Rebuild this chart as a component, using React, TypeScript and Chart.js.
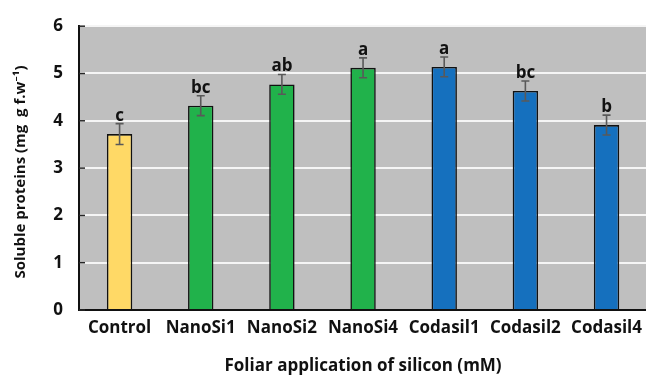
import React, { useEffect, useRef } from "react";
import { Chart, registerables } from "chart.js";

Chart.register(...registerables);

const categories = ["Control", "NanoSi1", "NanoSi2", "NanoSi4", "Codasil1", "Codasil2", "Codasil4"];
const values = [3.72, 4.32, 4.77, 5.12, 5.14, 4.63, 3.91];
const errors = [0.22, 0.21, 0.21, 0.21, 0.21, 0.21, 0.21];
const letters = ["c", "bc", "ab", "a", "a", "bc", "b"];
const barColors = ["#FFD966", "#21B24B", "#21B24B", "#21B24B", "#1570BE", "#1570BE", "#1570BE"];
const yTicks = [0, 1, 2, 3, 4, 5, 6];
const yTitle = "Soluble proteins (mg  g f.w⁻¹)";
const xTitle = "Foliar application of silicon (mM)";

const FONT = "'Open Sans', 'Noto Sans', sans-serif";

const bgPlugin = {
  id: "plotBg",
  beforeDraw(chart: any) {
    const { ctx, chartArea } = chart;
    ctx.save();
    ctx.fillStyle = "#BFBFBF";
    ctx.fillRect(chartArea.left, chartArea.top, chartArea.right - chartArea.left, chartArea.bottom - chartArea.top);
    ctx.restore();
  },
};

const extrasPlugin = {
  id: "extras",
  afterDatasetsDraw(chart: any) {
    const { ctx, scales } = chart;
    const y = scales.y;
    const meta = chart.getDatasetMeta(0);
    ctx.save();
    ctx.strokeStyle = "#262626";
    ctx.lineWidth = 1.5;
    yTicks.forEach((t) => {
      const py = y.getPixelForValue(t);
      ctx.beginPath();
      ctx.moveTo(chart.chartArea.left, py);
      ctx.lineTo(chart.chartArea.left + 6, py);
      ctx.stroke();
    });
    meta.data.forEach((bar: any, i: number) => {
      const x = bar.x;
      const top = y.getPixelForValue(values[i] + errors[i]);
      const bot = y.getPixelForValue(values[i] - errors[i]);
      ctx.strokeStyle = "#595959";
      ctx.lineWidth = 1.6;
      ctx.beginPath();
      ctx.moveTo(x, top);
      ctx.lineTo(x, bot);
      ctx.moveTo(x - 4, top);
      ctx.lineTo(x + 4, top);
      ctx.moveTo(x - 4, bot);
      ctx.lineTo(x + 4, bot);
      ctx.stroke();
      ctx.fillStyle = "#111";
      ctx.font = "bold 17px " + FONT;
      ctx.textAlign = "center";
      ctx.textBaseline = "alphabetic";
      ctx.fillText(letters[i], x, top - 3);
    });
    // y axis title
    ctx.translate(21, 172);
    ctx.rotate(-Math.PI / 2);
    ctx.fillStyle = "#111";
    ctx.font = "bold 15px " + FONT;
    ctx.textAlign = "center";
    ctx.textBaseline = "middle";
    ctx.fillText(yTitle, 0, 0);
    ctx.restore();
  },
};

export default function App() {
  const ref = useRef<HTMLCanvasElement>(null);
  useEffect(() => {
    if (!ref.current) return;
    const chart = new Chart(ref.current, {
      type: "bar",
      data: {
        labels: categories,
        datasets: [
          {
            data: values,
            backgroundColor: barColors,
            borderColor: "#111",
            borderWidth: 1.6,
            categoryPercentage: 1,
            barPercentage: 0.313,
          },
        ],
      },
      options: {
        animation: false,
        responsive: false,
        layout: { padding: { left: 0, right: 0, top: 21, bottom: 0 } },
        plugins: { legend: { display: false }, tooltip: { enabled: false } },
        scales: {
          x: {
            grid: { display: false, drawTicks: false },
            border: { display: true, color: "#111", width: 2 },
            ticks: { color: "#111", font: { family: FONT, size: 17, weight: "bold" }, padding: 8, maxRotation: 0 },
            title: {
              display: true,
              text: xTitle,
              color: "#111",
              font: { family: FONT, size: 17, weight: "bold" },
              padding: { top: 0, bottom: 1 },
            },
            afterFit(scale: any) {
              scale.height = 67;
            },
          },
          y: {
            min: 0,
            max: 6,
            ticks: { stepSize: 1, color: "#111", font: { family: FONT, size: 17, weight: "bold" }, padding: 16 },
            grid: { color: "#F5F5F5", lineWidth: 2, drawTicks: false },
            border: { display: true, color: "#111", width: 2 },
            title: { display: false },
            afterFit(scale: any) {
              scale.width = 79;
            },
          },
        },
      },
      plugins: [bgPlugin, extrasPlugin],
    } as any);
    return () => chart.destroy();
  }, []);
  return (
    <div style={{ position: "absolute", left: 0, top: 0, width: 646, height: 377, overflow: "hidden", background: "#fff" }}>
      <canvas ref={ref} width={650} height={377} style={{ display: "block" }} />
    </div>
  );
}
